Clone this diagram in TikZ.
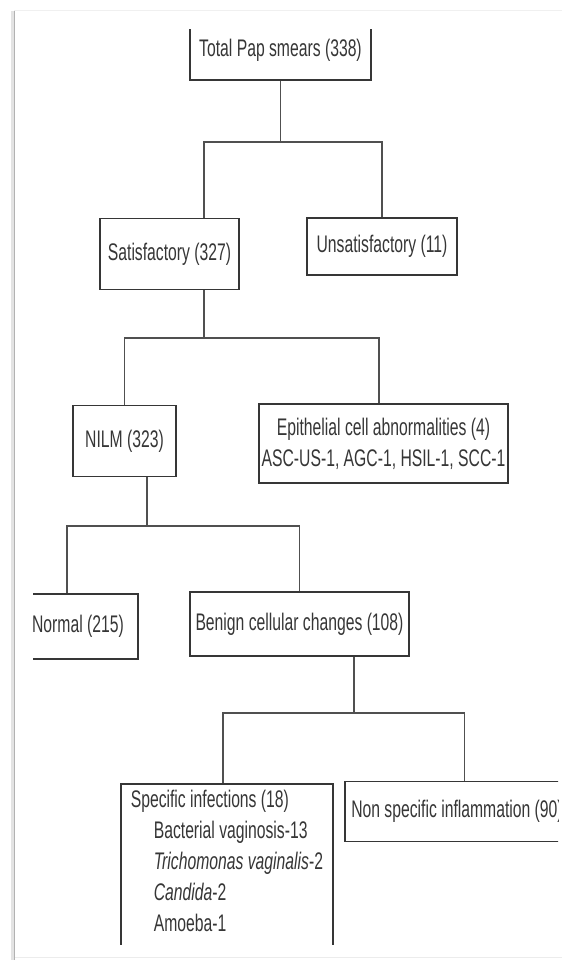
\documentclass[tikz,border=0pt]{standalone}
\usepackage{fontspec}
\setmainfont{Liberation Sans}[FakeStretch=0.655]
\definecolor{inkgray}{HTML}{363636}
\definecolor{linegray}{HTML}{505050}
\begin{document}
\begin{tikzpicture}[x=1pt, y=-1pt,
	box/.style={draw=inkgray, line width=1.6pt, text=inkgray, font=\fontsize{24pt}{31pt}\selectfont, inner sep=0pt, align=center},
	link/.style={draw=linegray, line width=1.2pt}]
	\useasboundingbox (0,0) rectangle (562,960);
	\draw [gray!12, line width=1pt] (14,11) -- (562,11);
	\draw [gray!15, line width=1pt] (14,957) -- (562,957);
	\draw [gray!22, line width=3pt] (12.5,11) -- (12.5,960);
	\draw [gray!60, line width=1.5pt] (14.5,11) -- (14.5,960);
	
	\coordinate (bus1) at (0,142);
	\coordinate (bus2) at (0,338);
	\coordinate (bus3) at (0,526);
	\coordinate (bus4) at (0,713);
	
	\begin{scope}
	\clip (33,30) rectangle (558,944);
	
	\node [box, minimum width=181pt, minimum height=60pt] (total) at (280.5,50) {Total Pap smears (338)};
	
	\node [box, minimum width=139pt, minimum height=71pt] (sat) at (169.5,254) {Satisfactory (327)};
	\node [box, minimum width=149.5pt, minimum height=57pt] (unsat) at (382,246.5) {Unsatisfactory (11)};
	
	\node [box, minimum width=102.5pt, minimum height=71pt] (nilm) at (124.5,441) {NILM (323)};
	\node [box, minimum width=249pt, minimum height=79pt] (epith) at (383.5,443.5) {Epithelial cell abnormalities (4)\\ASC-US-1, AGC-1, HSIL-1, SCC-1};
	
	\node [box, inner xsep=14pt, minimum height=65pt] (normal) at (78,626.5) {Normal (215)};
	\node [box, minimum width=219pt, minimum height=64pt] (benign) at (299.5,624) {Benign cellular changes (108)};
	
	\node [box, anchor=north west, align=left, inner xsep=10pt, inner ysep=6pt] (spec) at (120,783) {Specific infections (18)\\\hspace*{23pt}Bacterial vaginosis-13\\\hspace*{23pt}\textit{Trichomonas vaginalis}-2\\\hspace*{23pt}\textit{Candida}-2\\\hspace*{23pt}Amoeba-1\\[-6pt]\mbox{}};
	\node [box, anchor=west, inner xsep=6.5pt, minimum height=60pt] (nonspec) at (344,811.5) {Non specific inflammation (90)};
	
	\draw [link] (total.south) -- (total.south |- bus1);
	\draw [link] ([xshift=34.5pt]sat.north) |- (bus1 -| unsat.north) -- (unsat.north);
	
	\draw [link] ([xshift=34.5pt]sat.south) -- ([xshift=34.5pt]sat.south |- bus2);
	\draw [link] (nilm.north) |- ([xshift=-4.5pt]epith.north |- bus2) -- ([xshift=-4.5pt]epith.north);
	
	\draw [link] ([xshift=22.5pt]nilm.south) -- ([xshift=22.5pt]nilm.south |- bus3);
	\draw [link] ([xshift=-11pt]normal.north) |- (benign.north |- bus3) -- (benign.north);
	
	\draw [link] ([xshift=54.5pt]benign.south) -- ([xshift=54.5pt]benign.south |- bus4);
	\draw [link] ([xshift=103pt]spec.north west) |- ([xshift=120.5pt]nonspec.north west |- bus4) -- ([xshift=120.5pt]nonspec.north west);
	\end{scope}
\end{tikzpicture}
\end{document}
